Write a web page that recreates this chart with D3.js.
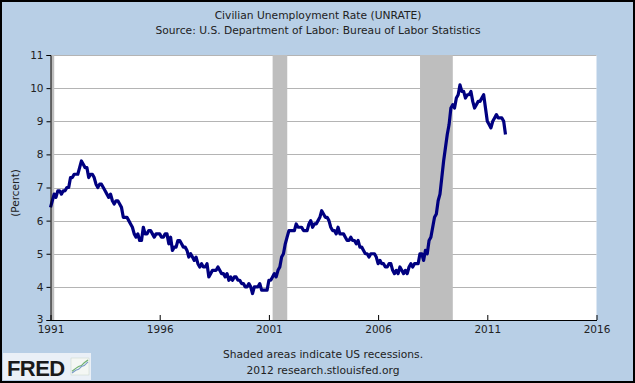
<!DOCTYPE html>
<html>
<head>
<meta charset="utf-8">
<script src="https://cdn.jsdelivr.net/npm/d3@7"></script>
<style>
html,body{margin:0;padding:0;background:#fff;}
svg{display:block;}
text{font-family:"DejaVu Sans",Verdana,sans-serif;fill:#222;}
</style>
</head>
<body>
<script>
// ---- data ----
const startYear = 1991;
const unrate = [
  6.4,6.6,6.8,6.7,6.9,6.9,6.8,6.9,6.9,7.0,7.0,7.3,
  7.3,7.4,7.4,7.4,7.6,7.8,7.7,7.6,7.6,7.3,7.4,7.4,
  7.3,7.1,7.0,7.1,7.1,7.0,6.9,6.8,6.7,6.8,6.6,6.5,
  6.6,6.6,6.5,6.4,6.1,6.1,6.1,6.0,5.9,5.8,5.6,5.5,
  5.6,5.4,5.4,5.8,5.6,5.6,5.7,5.7,5.6,5.5,5.6,5.6,
  5.6,5.5,5.5,5.6,5.6,5.3,5.5,5.1,5.2,5.2,5.4,5.4,
  5.3,5.2,5.2,5.1,4.9,5.0,4.9,4.8,4.9,4.7,4.6,4.7,
  4.6,4.6,4.7,4.3,4.4,4.5,4.5,4.5,4.6,4.5,4.4,4.4,
  4.3,4.4,4.2,4.3,4.2,4.3,4.3,4.2,4.2,4.1,4.1,4.0,
  4.0,4.1,4.0,3.8,4.0,4.0,4.0,4.1,3.9,3.9,3.9,3.9,
  4.2,4.2,4.3,4.4,4.3,4.5,4.6,4.9,5.0,5.3,5.5,5.7,
  5.7,5.7,5.7,5.9,5.8,5.8,5.8,5.7,5.7,5.7,5.9,6.0,
  5.8,5.9,5.9,6.0,6.1,6.3,6.2,6.1,6.1,6.0,5.8,5.7,
  5.7,5.6,5.8,5.6,5.6,5.6,5.5,5.4,5.4,5.5,5.4,5.4,
  5.3,5.4,5.2,5.2,5.1,5.0,5.0,4.9,5.0,5.0,5.0,4.9,
  4.7,4.8,4.7,4.7,4.6,4.6,4.7,4.7,4.5,4.4,4.5,4.4,
  4.6,4.5,4.4,4.5,4.4,4.6,4.7,4.6,4.7,4.7,4.7,5.0,
  5.0,4.8,5.1,5.0,5.4,5.5,5.8,6.1,6.2,6.6,6.8,7.3,
  7.8,8.2,8.6,8.9,9.4,9.5,9.4,9.7,9.8,10.1,9.9,9.9,
  9.7,9.8,9.8,9.9,9.6,9.4,9.5,9.6,9.6,9.7,9.8,9.4,
  9.0,8.9,8.8,9.0,9.1,9.2,9.1,9.1,9.1,9.0,8.6
];
// recession periods as [start, end] in decimal years
const recessions = [[1991.0, 1991.17], [2001.17, 2001.84], [2007.92, 2009.42]];
const xTicks = [1991, 1996, 2001, 2006, 2011, 2016];
const yTicks = [3, 4, 5, 6, 7, 8, 9, 10, 11];
const titleLines = ["Civilian Unemployment Rate (UNRATE)", "Source: U.S. Department of Labor: Bureau of Labor Statistics"];
const footLines = ["Shaded areas indicate US recessions.", "2012 research.stlouisfed.org"];
const yLabel = "(Percent)";

// ---- drawing ----
const W = 635, H = 383;
const plot = {left: 50.5, right: 596.5, top: 55, bottom: 320};

const svg = d3.select("body").append("svg").attr("width", W).attr("height", H);
svg.append("rect").attr("x", 0).attr("y", 0).attr("width", W).attr("height", H).attr("fill", "#b8cfe6");
svg.append("rect").attr("x", 1).attr("y", 1).attr("width", W - 2).attr("height", H - 2)
  .attr("fill", "none").attr("stroke", "#000").attr("stroke-width", 2);

const x = d3.scaleLinear().domain([1991, 2016]).range([plot.left, plot.right]);
const y = d3.scaleLinear().domain([3, 11]).range([plot.bottom, plot.top]);

svg.append("rect").attr("x", plot.left).attr("y", plot.top)
  .attr("width", plot.right - plot.left).attr("height", plot.bottom - plot.top).attr("fill", "#fff");

// gridlines
svg.append("g").selectAll("line").data(yTicks.filter(d => d > 3)).join("line")
  .attr("x1", plot.left).attr("x2", plot.right)
  .attr("y1", d => Math.round(y(d)) + 0.5).attr("y2", d => Math.round(y(d)) + 0.5)
  .attr("stroke", "#b4b4b4").attr("stroke-width", 1);

// recessions
svg.append("g").selectAll("rect").data(recessions).join("rect")
  .attr("x", d => x(d[0])).attr("width", d => x(d[1]) - x(d[0]))
  .attr("y", plot.top).attr("height", plot.bottom - plot.top)
  .attr("fill", "#bebebe");

// line
const pts = unrate.map((v, i) => ({t: startYear + i / 12, v}));
svg.append("path").datum(pts)
  .attr("fill", "none").attr("stroke", "#000080").attr("stroke-width", 3.2)
  .attr("stroke-linejoin", "round")
  .attr("d", d3.line().x(d => x(d.t)).y(d => y(d.v)));

// axes
const yAxis = d3.axisLeft(y).tickValues(yTicks).tickSize(4).tickPadding(3).tickFormat(d3.format("d"));
const gy = svg.append("g").attr("transform", `translate(${plot.left},0)`).call(yAxis);
gy.select(".domain").attr("stroke", "#000");
gy.selectAll(".tick line").attr("stroke", "#000");
gy.selectAll("text").style("font-size", "10.5px").attr("fill", "#222").attr("font-family", "DejaVu Sans")
  .attr("dy", d => d === 3 ? "0.2em" : "0.32em");

const xAxis = d3.axisBottom(x).tickValues(xTicks).tickSize(0).tickPadding(6).tickFormat(d3.format("d"));
const gx = svg.append("g").attr("transform", `translate(0,${plot.bottom})`).call(xAxis);
gx.select(".domain").attr("stroke", "#000");
gx.selectAll("text").style("font-size", "10.5px").attr("fill", "#222").attr("font-family", "DejaVu Sans");
// inward tick marks
gx.selectAll(".tick").append("line").attr("y1", 0).attr("y2", -5).attr("stroke", "#000");

// titles
svg.append("g").selectAll("text").data(titleLines).join("text")
  .attr("x", 318).attr("y", (d, i) => 19 + i * 14.5)
  .attr("text-anchor", "middle").style("font-size", "10.7px").text(d => d);

svg.append("g").selectAll("text").data(footLines).join("text")
  .attr("x", 323).attr("y", (d, i) => 358 + i * 15.5)
  .attr("text-anchor", "middle").style("font-size", "10.7px").text(d => d);

svg.append("text").attr("transform", "translate(19,193) rotate(-90)")
  .attr("text-anchor", "middle").style("font-size", "10.5px").text(yLabel);

// FRED logo
const logo = svg.append("g");
logo.append("rect").attr("x", 3).attr("y", 353).attr("width", 88).attr("height", 27).attr("fill", "#eaf0f7");
logo.append("text").attr("x", 7).attr("y", 375.5)
  .style("font-family", "Liberation Sans, Arial, sans-serif")
  .style("font-size", "22px").style("font-weight", "bold").style("letter-spacing", "-0.6px")
  .style("fill", "#1a1a1a").text("FRED");
logo.append("rect").attr("x", 71).attr("y", 358).attr("width", 18).attr("height", 17).attr("fill", "#f4f7f4").attr("stroke", "#c8d4c8").attr("stroke-width", 0.5);
const iconData = [[0, 3], [4, 6], [7, 8], [10, 9], [13, 12], [17, 15]];
const iconData2 = [[0, 1], [4, 4], [7, 5], [10, 8], [13, 9], [17, 13]];
const ix = d3.scaleLinear().domain([0, 17]).range([72, 88]);
const iy = d3.scaleLinear().domain([0, 16]).range([374, 359]);
logo.append("path").datum(iconData).attr("fill", "none").attr("stroke", "#6fb06f").attr("stroke-width", 1.2)
  .attr("d", d3.line().x(d => ix(d[0])).y(d => iy(d[1])));
logo.append("path").datum(iconData2).attr("fill", "none").attr("stroke", "#7a9cc8").attr("stroke-width", 1.2)
  .attr("d", d3.line().x(d => ix(d[0])).y(d => iy(d[1])));
</script>
</body>
</html>
